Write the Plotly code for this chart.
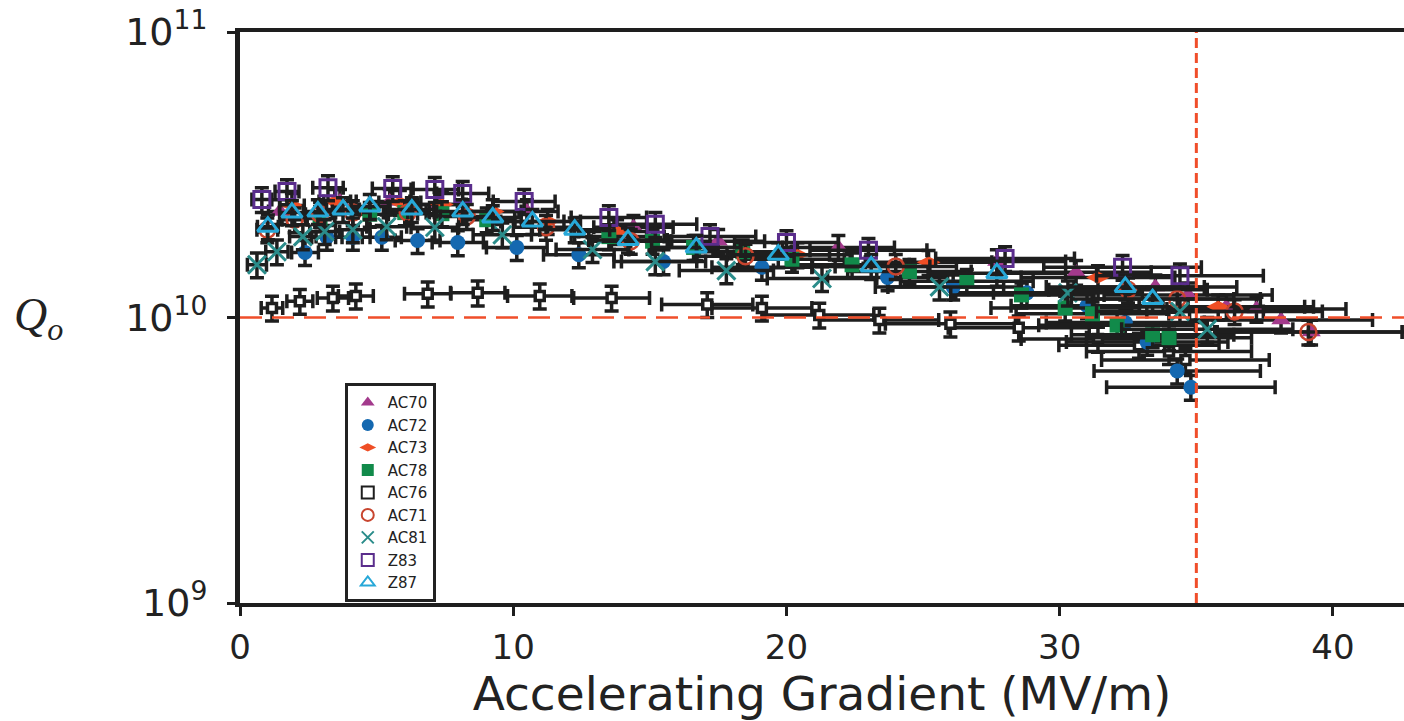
import plotly.graph_objects as go

# ---- data (gradient MV/m, Q0) ----
ac70_x = [1.46, 3.66, 5.48, 7.3, 10.5, 14.4, 17.5, 21.9, 27.7, 30.6, 33.5, 34.7, 36.1, 37.2, 38.1, 39.2]
ac70_y = [2.35e10, 2.55e10, 2.55e10, 2.49e10, 2.35e10, 2.07e10, 1.85e10, 1.76e10, 1.57e10, 1.44e10, 1.28e10, 1.20e10, 1.09e10, 1.07e10, 0.98e10, 0.89e10]

ac72_x = [2.38, 3.18, 4.13, 5.19, 6.5, 7.97, 10.13, 12.4, 15.5, 19.1, 23.7, 26.1, 28.8, 31.0, 32.4, 33.2, 34.3, 34.8]
ac72_y = [1.69e10, 1.91e10, 1.91e10, 1.91e10, 1.86e10, 1.83e10, 1.76e10, 1.66e10, 1.57e10, 1.50e10, 1.38e10, 1.28e10, 1.22e10, 1.10e10, 0.96e10, 0.82e10, 0.65e10, 0.57e10]

ac73_x = [1.9, 3.47, 5.85, 7.39, 9.25, 11.26, 13.8, 20.4, 25.2, 31.4, 35.8]
ac73_y = [2.47e10, 2.55e10, 2.53e10, 2.49e10, 2.35e10, 2.17e10, 2.0e10, 1.66e10, 1.56e10, 1.38e10, 1.09e10]

ac78_x = [2.93, 4.75, 6.03, 7.39, 9.03, 13.5, 15.1, 16.6, 18.4, 20.2, 22.4, 24.5, 26.6, 28.6, 30.2, 31.2, 32.1, 33.4, 34.0]
ac78_y = [2.22e10, 2.30e10, 2.33e10, 2.31e10, 2.20e10, 1.92e10, 1.85e10, 1.76e10, 1.70e10, 1.60e10, 1.53e10, 1.45e10, 1.34e10, 1.20e10, 1.08e10, 1.03e10, 0.94e10, 0.87e10, 0.85e10]

ac76_x = [1.17, 2.19, 3.4, 4.24, 6.87, 8.7, 10.97, 13.6, 17.1, 19.1, 21.2, 23.4, 26.0, 28.5, 31.4, 32.9, 34.0, 34.6]
ac76_y = [1.08e10, 1.14e10, 1.17e10, 1.19e10, 1.21e10, 1.22e10, 1.19e10, 1.17e10, 1.11e10, 1.08e10, 1.02e10, 0.98e10, 0.95e10, 0.92e10, 0.84e10, 0.80e10, 0.76e10, 0.71e10]

ac71_x = [1.0, 2.0, 2.93, 4.13, 6.14, 8.3, 11.2, 14.3, 18.5, 24.0, 32.5, 34.3, 36.4, 39.1]
ac71_y = [2.03e10, 2.20e10, 2.30e10, 2.33e10, 2.33e10, 2.26e10, 2.07e10, 1.85e10, 1.64e10, 1.51e10, 1.25e10, 1.16e10, 1.05e10, 0.89e10]

ac81_x = [0.62, 1.35, 2.3, 3.1, 4.13, 5.37, 7.13, 9.6, 12.9, 15.2, 17.8, 21.3, 25.6, 30.3, 34.4, 35.4]
ac81_y = [1.53e10, 1.70e10, 1.92e10, 2.0e10, 2.03e10, 2.08e10, 2.07e10, 1.95e10, 1.73e10, 1.57e10, 1.46e10, 1.37e10, 1.28e10, 1.22e10, 1.05e10, 0.91e10]

z83_x = [0.8, 1.72, 3.22, 5.59, 7.13, 8.15, 10.4, 13.5, 15.2, 17.2, 20.0, 23.0, 28.0, 32.3, 34.4]
z83_y = [2.59e10, 2.76e10, 2.85e10, 2.83e10, 2.81e10, 2.72e10, 2.55e10, 2.24e10, 2.12e10, 1.92e10, 1.83e10, 1.72e10, 1.61e10, 1.50e10, 1.40e10]

z87_x = [1.02, 1.9, 2.85, 3.77, 4.75, 6.29, 8.15, 9.25, 10.7, 12.25, 14.2, 16.7, 19.7, 23.1, 27.7, 32.4, 33.4]
z87_y = [2.08e10, 2.33e10, 2.35e10, 2.39e10, 2.45e10, 2.39e10, 2.35e10, 2.24e10, 2.17e10, 2.03e10, 1.87e10, 1.76e10, 1.66e10, 1.51e10, 1.43e10, 1.28e10, 1.16e10]

x_ticks = [0, 10, 20, 30, 40]
y_ticks = [1e9, 1e10, 1e11]
y_ticktext = ["10<sup>9</sup>", "10<sup>10</sup>", "10<sup>11</sup>"]
spec_gradient = 35
spec_q0 = 1e10

series = [
    ("AC76", ac76_x, ac76_y, dict(symbol="square", color="white", size=9, line=dict(color="#1e1e1e", width=3.5))),
    ("AC70", ac70_x, ac70_y, dict(symbol="triangle-up", color="#a33a8c", size=17)),
    ("AC72", ac72_x, ac72_y, dict(symbol="circle", color="#1468b0", size=15)),
    ("AC73", ac73_x, ac73_y, dict(symbol="diamond-wide", color="#ef4e25", size=17)),
    ("AC78", ac78_x, ac78_y, dict(symbol="square", color="#118a4a", size=15)),
    ("AC71", ac71_x, ac71_y, dict(symbol="circle-open", color="#c8452f", size=16, line=dict(width=2.5))),
    ("AC81", ac81_x, ac81_y, dict(symbol="x-thin-open", color="#2a8c8a", size=18, line=dict(width=3, color="#2a8c8a"))),
    ("Z83", z83_x, z83_y, dict(symbol="square-open", color="#5a2d8c", size=16, line=dict(width=3))),
    ("Z87", z87_x, z87_y, dict(symbol="triangle-up-open", color="#27a8d8", size=18, line=dict(width=3))),
]
legend_order = ["AC70", "AC72", "AC73", "AC78", "AC76", "AC71", "AC81", "Z83", "Z87"]

fig = go.Figure()
for name, xs, ys, mk in series:
    fig.add_trace(go.Scatter(
        x=xs, y=ys, mode="markers", name=name, marker=mk,
        legendrank=legend_order.index(name) + 1,
        error_y=dict(type="percent", value=10, color="#1e1e1e", thickness=3.5, width=7),
        error_x=dict(type="data", array=[0.3 + 0.08 * v for v in xs], color="#1e1e1e", thickness=3.5, width=7),
    ))

fig.add_hline(y=spec_q0, line=dict(color="#f04e2a", width=2.5, dash="22px,10px"), layer="above")
fig.add_vline(x=spec_gradient, line=dict(color="#f04e2a", width=3, dash="10px,5px"), layer="above")

fig.add_annotation(text="<i>Q<sub>o</sub></i>", xref="paper", yref="y", x=-0.196, y=10,
                   showarrow=False, xanchor="left", yanchor="middle",
                   font=dict(family="Liberation Serif", size=46, color="#222"))

fig.update_layout(
    width=1404, height=721,
    margin=dict(l=240, r=0, t=32, b=118),
    paper_bgcolor="white", plot_bgcolor="white",
    font=dict(family="DejaVu Sans", color="#222"),
    showlegend=True,
    legend=dict(x=0.09, y=0.385, xanchor="left", yanchor="top",
                bordercolor="#222", borderwidth=3, bgcolor="white",
                font=dict(size=15, color="#222"), itemsizing="constant",
                tracegroupgap=0, itemwidth=30),
    xaxis=dict(range=[0, 42.6], tickvals=x_ticks, showgrid=False, zeroline=False,
               showline=True, linecolor="#1e1e1e", linewidth=4, mirror=True,
               ticks="outside", ticklen=9, tickwidth=3, tickcolor="#1e1e1e",
               tickfont=dict(size=34), ticklabelstandoff=2,
               title=dict(text="Accelerating Gradient (MV/m)", font=dict(size=47), standoff=10)),
    yaxis=dict(type="log", range=[9, 11], tickvals=y_ticks, ticktext=y_ticktext,
               showgrid=False, zeroline=False, showline=True, linecolor="#1e1e1e", linewidth=5,
               ticks="outside", ticklen=8, tickwidth=3, tickcolor="#1e1e1e",
               tickfont=dict(size=38), ticklabelstandoff=12),
)

fig.write_html("out.html")
